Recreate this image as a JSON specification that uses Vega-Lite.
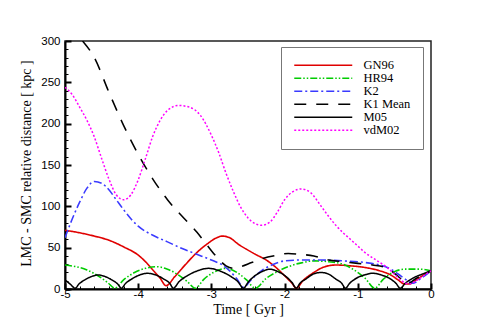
{
  "$schema": "https://vega.github.io/schema/vega-lite/v6.json",
  "width": 366,
  "height": 248,
  "autosize": {"type": "none"},
  "padding": {"left": 65, "top": 41, "right": 60, "bottom": 38},
  "background": "white",
  "config": {"view": {"stroke": "#222", "strokeWidth": 1.5}, "font": "Liberation Sans"},
  "data": {"values": [
    {"s":"GN96","t":-5,"d":71},{"s":"GN96","t":-4.8,"d":68},{"s":"GN96","t":-4.6,"d":64},{"s":"GN96","t":-4.4,"d":59},{"s":"GN96","t":-4.2,"d":51},{"s":"GN96","t":-4.0,"d":41},{"s":"GN96","t":-3.9,"d":33},{"s":"GN96","t":-3.8,"d":23},{"s":"GN96","t":-3.7,"d":13},{"s":"GN96","t":-3.62,"d":4},{"s":"GN96","t":-3.5,"d":15},{"s":"GN96","t":-3.35,"d":30},{"s":"GN96","t":-3.2,"d":44},{"s":"GN96","t":-3.05,"d":55},{"s":"GN96","t":-2.95,"d":61},{"s":"GN96","t":-2.85,"d":64},{"s":"GN96","t":-2.75,"d":62},{"s":"GN96","t":-2.63,"d":54},{"s":"GN96","t":-2.5,"d":47},{"s":"GN96","t":-2.4,"d":42},{"s":"GN96","t":-2.25,"d":35},{"s":"GN96","t":-2.13,"d":27},{"s":"GN96","t":-2.0,"d":16},{"s":"GN96","t":-1.9,"d":7},{"s":"GN96","t":-1.84,"d":1},{"s":"GN96","t":-1.75,"d":10},{"s":"GN96","t":-1.6,"d":20},{"s":"GN96","t":-1.45,"d":27},{"s":"GN96","t":-1.3,"d":29},{"s":"GN96","t":-1.1,"d":28},{"s":"GN96","t":-0.9,"d":26},{"s":"GN96","t":-0.7,"d":22},{"s":"GN96","t":-0.55,"d":17},{"s":"GN96","t":-0.45,"d":11},{"s":"GN96","t":-0.36,"d":6},{"s":"GN96","t":-0.3,"d":6},{"s":"GN96","t":-0.2,"d":11},{"s":"GN96","t":-0.1,"d":17},{"s":"GN96","t":0,"d":22},
    {"s":"HR94","t":-5,"d":29},{"s":"HR94","t":-4.85,"d":27},{"s":"HR94","t":-4.7,"d":23},{"s":"HR94","t":-4.55,"d":16},{"s":"HR94","t":-4.42,"d":8},{"s":"HR94","t":-4.32,"d":1},{"s":"HR94","t":-4.2,"d":11},{"s":"HR94","t":-4.05,"d":20},{"s":"HR94","t":-3.9,"d":25},{"s":"HR94","t":-3.75,"d":27},{"s":"HR94","t":-3.6,"d":24},{"s":"HR94","t":-3.47,"d":18},{"s":"HR94","t":-3.33,"d":9},{"s":"HR94","t":-3.22,"d":1},{"s":"HR94","t":-3.1,"d":12},{"s":"HR94","t":-2.95,"d":21},{"s":"HR94","t":-2.8,"d":25},{"s":"HR94","t":-2.65,"d":20},{"s":"HR94","t":-2.52,"d":11},{"s":"HR94","t":-2.4,"d":1},{"s":"HR94","t":-2.25,"d":13},{"s":"HR94","t":-2.1,"d":21},{"s":"HR94","t":-1.95,"d":27},{"s":"HR94","t":-1.8,"d":31},{"s":"HR94","t":-1.6,"d":34},{"s":"HR94","t":-1.4,"d":33},{"s":"HR94","t":-1.2,"d":30},{"s":"HR94","t":-1.05,"d":23},{"s":"HR94","t":-0.9,"d":13},{"s":"HR94","t":-0.77,"d":1},{"s":"HR94","t":-0.65,"d":12},{"s":"HR94","t":-0.5,"d":21},{"s":"HR94","t":-0.35,"d":24},{"s":"HR94","t":-0.15,"d":24},{"s":"HR94","t":0,"d":22},
    {"s":"K2","t":-5,"d":62},{"s":"K2","t":-4.9,"d":85},{"s":"K2","t":-4.8,"d":105},{"s":"K2","t":-4.7,"d":122},{"s":"K2","t":-4.6,"d":130},{"s":"K2","t":-4.5,"d":128},{"s":"K2","t":-4.4,"d":120},{"s":"K2","t":-4.3,"d":108},{"s":"K2","t":-4.2,"d":96},{"s":"K2","t":-4.1,"d":85},{"s":"K2","t":-4.0,"d":76},{"s":"K2","t":-3.8,"d":65},{"s":"K2","t":-3.6,"d":57},{"s":"K2","t":-3.4,"d":49},{"s":"K2","t":-3.2,"d":42},{"s":"K2","t":-3.0,"d":35},{"s":"K2","t":-2.85,"d":29},{"s":"K2","t":-2.75,"d":22},{"s":"K2","t":-2.65,"d":12},{"s":"K2","t":-2.56,"d":2},{"s":"K2","t":-2.45,"d":12},{"s":"K2","t":-2.3,"d":23},{"s":"K2","t":-2.15,"d":30},{"s":"K2","t":-2.0,"d":34},{"s":"K2","t":-1.8,"d":35},{"s":"K2","t":-1.5,"d":35},{"s":"K2","t":-1.2,"d":34},{"s":"K2","t":-0.9,"d":32},{"s":"K2","t":-0.7,"d":29},{"s":"K2","t":-0.55,"d":24},{"s":"K2","t":-0.4,"d":15},{"s":"K2","t":-0.3,"d":9},{"s":"K2","t":-0.24,"d":7},{"s":"K2","t":-0.15,"d":12},{"s":"K2","t":0,"d":22},
    {"s":"K1 Mean","t":-4.76,"d":300},{"s":"K1 Mean","t":-4.6,"d":280},{"s":"K1 Mean","t":-4.4,"d":238},{"s":"K1 Mean","t":-4.2,"d":198},{"s":"K1 Mean","t":-4.0,"d":163},{"s":"K1 Mean","t":-3.8,"d":133},{"s":"K1 Mean","t":-3.6,"d":108},{"s":"K1 Mean","t":-3.4,"d":88},{"s":"K1 Mean","t":-3.2,"d":69},{"s":"K1 Mean","t":-3.05,"d":52},{"s":"K1 Mean","t":-2.9,"d":36},{"s":"K1 Mean","t":-2.8,"d":28},{"s":"K1 Mean","t":-2.7,"d":25},{"s":"K1 Mean","t":-2.6,"d":27},{"s":"K1 Mean","t":-2.45,"d":32},{"s":"K1 Mean","t":-2.3,"d":37},{"s":"K1 Mean","t":-2.1,"d":41},{"s":"K1 Mean","t":-1.95,"d":43},{"s":"K1 Mean","t":-1.8,"d":42},{"s":"K1 Mean","t":-1.6,"d":40},{"s":"K1 Mean","t":-1.4,"d":35},{"s":"K1 Mean","t":-1.2,"d":33},{"s":"K1 Mean","t":-1.0,"d":31},{"s":"K1 Mean","t":-0.8,"d":29},{"s":"K1 Mean","t":-0.62,"d":26},{"s":"K1 Mean","t":-0.5,"d":19},{"s":"K1 Mean","t":-0.42,"d":13},{"s":"K1 Mean","t":-0.33,"d":6},{"s":"K1 Mean","t":-0.2,"d":13},{"s":"K1 Mean","t":0,"d":22},
    {"s":"M05","t":-5,"d":11},{"s":"M05","t":-4.93,"d":6},{"s":"M05","t":-4.86,"d":1},{"s":"M05","t":-4.81,"d":6},{"s":"M05","t":-4.73,"d":11},{"s":"M05","t":-4.64,"d":15},{"s":"M05","t":-4.55,"d":17},{"s":"M05","t":-4.45,"d":15},{"s":"M05","t":-4.36,"d":11},{"s":"M05","t":-4.28,"d":6},{"s":"M05","t":-4.23,"d":1},{"s":"M05","t":-4.17,"d":7},{"s":"M05","t":-4.09,"d":12},{"s":"M05","t":-3.98,"d":17},{"s":"M05","t":-3.87,"d":19},{"s":"M05","t":-3.76,"d":17},{"s":"M05","t":-3.65,"d":12},{"s":"M05","t":-3.57,"d":7},{"s":"M05","t":-3.52,"d":1},{"s":"M05","t":-3.44,"d":9},{"s":"M05","t":-3.33,"d":16},{"s":"M05","t":-3.19,"d":22},{"s":"M05","t":-3.04,"d":25},{"s":"M05","t":-2.89,"d":22},{"s":"M05","t":-2.75,"d":16},{"s":"M05","t":-2.64,"d":9},{"s":"M05","t":-2.56,"d":1},{"s":"M05","t":-2.5,"d":8},{"s":"M05","t":-2.42,"d":15},{"s":"M05","t":-2.31,"d":21},{"s":"M05","t":-2.2,"d":24},{"s":"M05","t":-2.09,"d":21},{"s":"M05","t":-1.98,"d":15},{"s":"M05","t":-1.9,"d":8},{"s":"M05","t":-1.84,"d":1},{"s":"M05","t":-1.79,"d":7},{"s":"M05","t":-1.71,"d":12},{"s":"M05","t":-1.61,"d":18},{"s":"M05","t":-1.5,"d":20},{"s":"M05","t":-1.4,"d":18},{"s":"M05","t":-1.3,"d":12},{"s":"M05","t":-1.22,"d":7},{"s":"M05","t":-1.17,"d":1},{"s":"M05","t":-1.11,"d":7},{"s":"M05","t":-1.02,"d":13},{"s":"M05","t":-0.91,"d":17},{"s":"M05","t":-0.8,"d":19},{"s":"M05","t":-0.68,"d":17},{"s":"M05","t":-0.57,"d":13},{"s":"M05","t":-0.48,"d":7},{"s":"M05","t":-0.42,"d":1},{"s":"M05","t":-0.35,"d":7},{"s":"M05","t":-0.25,"d":13},{"s":"M05","t":-0.12,"d":18},{"s":"M05","t":0,"d":22},
    {"s":"vdM02","t":-5,"d":244},{"s":"vdM02","t":-4.9,"d":235},{"s":"vdM02","t":-4.8,"d":220},{"s":"vdM02","t":-4.7,"d":204},{"s":"vdM02","t":-4.6,"d":184},{"s":"vdM02","t":-4.5,"d":158},{"s":"vdM02","t":-4.4,"d":133},{"s":"vdM02","t":-4.3,"d":114},{"s":"vdM02","t":-4.2,"d":108},{"s":"vdM02","t":-4.1,"d":114},{"s":"vdM02","t":-4.0,"d":132},{"s":"vdM02","t":-3.9,"d":158},{"s":"vdM02","t":-3.8,"d":185},{"s":"vdM02","t":-3.7,"d":204},{"s":"vdM02","t":-3.6,"d":216},{"s":"vdM02","t":-3.45,"d":222},{"s":"vdM02","t":-3.3,"d":220},{"s":"vdM02","t":-3.15,"d":210},{"s":"vdM02","t":-3.0,"d":186},{"s":"vdM02","t":-2.9,"d":165},{"s":"vdM02","t":-2.8,"d":140},{"s":"vdM02","t":-2.7,"d":118},{"s":"vdM02","t":-2.6,"d":99},{"s":"vdM02","t":-2.5,"d":86},{"s":"vdM02","t":-2.4,"d":79},{"s":"vdM02","t":-2.32,"d":77},{"s":"vdM02","t":-2.2,"d":81},{"s":"vdM02","t":-2.1,"d":93},{"s":"vdM02","t":-2.0,"d":108},{"s":"vdM02","t":-1.9,"d":117},{"s":"vdM02","t":-1.77,"d":121},{"s":"vdM02","t":-1.65,"d":117},{"s":"vdM02","t":-1.5,"d":100},{"s":"vdM02","t":-1.4,"d":88},{"s":"vdM02","t":-1.3,"d":77},{"s":"vdM02","t":-1.2,"d":68},{"s":"vdM02","t":-1.1,"d":60},{"s":"vdM02","t":-1.0,"d":52},{"s":"vdM02","t":-0.9,"d":44},{"s":"vdM02","t":-0.75,"d":35},{"s":"vdM02","t":-0.6,"d":26},{"s":"vdM02","t":-0.5,"d":18},{"s":"vdM02","t":-0.4,"d":10},{"s":"vdM02","t":-0.3,"d":6},{"s":"vdM02","t":-0.2,"d":10},{"s":"vdM02","t":-0.1,"d":16},{"s":"vdM02","t":0,"d":22}
  ]},
  "mark": {"type": "line", "interpolate": "monotone", "clip": true},
  "encoding": {
    "x": {
      "field": "t", "type": "quantitative",
      "scale": {"domain": [-5, 0], "nice": false, "zero": false},
      "axis": {
        "title": "Time [ Gyr ]",
        "titleFont": "Liberation Serif", "titleFontSize": 14, "titleFontWeight": "normal", "titleColor": "black",
        "titleY": 24, "titleBaseline": "alphabetic",
        "values": [-5,-4.8,-4.6,-4.4,-4.2,-4,-3.8,-3.6,-3.4,-3.2,-3,-2.8,-2.6,-2.4,-2.2,-2,-1.8,-1.6,-1.4,-1.2,-1,-0.8,-0.6,-0.4,-0.2,0],
        "labelExpr": "abs(datum.value % 1) < 0.000001 ? toString(datum.value) : ''",
        "labelFontSize": 11.5, "labelColor": "black", "labelPadding": 5, "labelOverlap": false, "labelFlush": false,
        "tickSize": {"condition": {"test": "abs(datum.value % 1) < 0.000001", "value": -6}, "value": -3},
        "tickWidth": {"condition": {"test": "abs(datum.value % 1) < 0.000001", "value": 2}, "value": 1},
        "tickColor": "black", "domainColor": "black", "domainWidth": 2, "grid": false
      }
    },
    "y": {
      "field": "d", "type": "quantitative",
      "scale": {"domain": [0, 300], "nice": false},
      "axis": {
        "title": "LMC - SMC relative distance [ kpc ]",
        "titleFont": "Liberation Serif", "titleFontSize": 14, "titleFontWeight": "normal", "titleColor": "black",
        "titleX": -35, "titleY": 122, "titleBaseline": "alphabetic", "titleAngle": -90,
        "values": [0,10,20,30,40,50,60,70,80,90,100,110,120,130,140,150,160,170,180,190,200,210,220,230,240,250,260,270,280,290,300],
        "labelExpr": "datum.value % 50 === 0 ? toString(datum.value) : ''",
        "labelFontSize": 11.5, "labelColor": "black", "labelPadding": 11, "labelOverlap": false, "labelFlush": false,
        "tickSize": {"condition": {"test": "datum.value % 50 === 0", "value": -6}, "value": -3},
        "tickWidth": {"condition": {"test": "datum.value % 50 === 0", "value": 2}, "value": 1},
        "tickColor": "black", "domainColor": "black", "domainWidth": 2, "grid": false
      }
    },
    "color": {
      "field": "s", "type": "nominal",
      "scale": {"domain": ["GN96","HR94","K2","K1 Mean","M05","vdM02"], "range": ["#e00000","#00cc00","#3a3aff","#000000","#000000","#ff00ff"]},
      "legend": {
        "title": null, "orient": "none", "legendX": 216, "legendY": 6,
        "symbolType": "M-1,0H10.6", "symbolSize": 100,
        "labelFont": "Liberation Serif", "labelFontSize": 12.5, "labelColor": "black", "labelOffset": 58,
        "rowPadding": 0, "padding": 12,
        "strokeColor": "#777", "fillColor": "white"
      }
    },
    "strokeDash": {
      "field": "s", "type": "nominal",
      "scale": {"domain": ["GN96","HR94","K2","K1 Mean","M05","vdM02"], "range": [[1,0],[7,2,1.5,2,1.5,2],[8,3,2,3],[12,10],[1,0],[2,2]]}
    },
    "strokeWidth": {
      "field": "s", "type": "nominal",
      "scale": {"domain": ["GN96","HR94","K2","K1 Mean","M05","vdM02"], "range": [1.6,1.5,1.5,2,0.8,2]}
    }
  }
}
